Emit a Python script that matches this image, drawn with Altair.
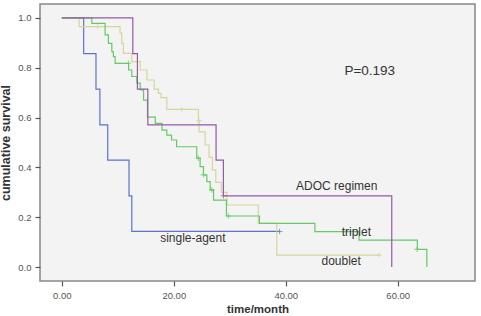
import altair as alt
import pandas as pd

# ---- data ----
series_names = ["single-agent", "doublet", "triplet", "ADOC regimen"]
series_colors = ["#5a74cc", "#d6d69c", "#62cc62", "#9659a8"]

single_t = [0, 3.9, 6.1, 6.8, 8.2, 12.0, 12.5, 38.9]
single_s = [1.0, 0.857, 0.714, 0.571, 0.429, 0.286, 0.143, 0.143]
single_ct = [38.9]
single_cs = [0.143]

doublet_t = [0, 3.1, 10.4, 10.7, 11.0, 12.5, 14.0, 15.2, 16.5, 17.25, 17.7, 18.75,
             24.4, 24.5, 25.6, 26.3, 26.9, 27.5, 28.5, 29.5, 35.1, 38.4, 56.7]
doublet_s = [1.0, 0.965, 0.939, 0.898, 0.858, 0.825, 0.791, 0.751, 0.714, 0.697, 0.68, 0.633,
             0.588, 0.543, 0.49, 0.44, 0.39, 0.34, 0.30, 0.249, 0.175, 0.048, 0.048]
doublet_ct = [6.4, 21.4, 24.5, 56.7]
doublet_cs = [0.965, 0.633, 0.588, 0.048]

triplet_t = [0, 5.36, 7.73, 8.32, 8.93, 9.21, 9.52, 11.93, 12.5, 13.4, 14.0, 14.6, 15.3,
             16.7, 17.9, 18.75, 19.6, 20.5, 24.1, 24.7, 25.3, 25.9, 26.5, 27.1, 29.4,
             35.3, 45.2, 53.1, 63.5, 65.2]
triplet_s = [1.0, 0.978, 0.932, 0.898, 0.865, 0.845, 0.818, 0.791, 0.765, 0.738, 0.711, 0.67, 0.602,
             0.577, 0.550, 0.530, 0.510, 0.483, 0.437, 0.403, 0.37, 0.343, 0.31, 0.269, 0.205,
             0.175, 0.142, 0.108, 0.071, 0.0]
triplet_ct = [11.9, 24.4, 25.3, 26.8, 29.75, 63.45]
triplet_cs = [0.818, 0.437, 0.37, 0.31, 0.205, 0.071]

adoc_t = [0, 12.68, 13.5, 15.36, 27.55, 28.86, 58.93]
adoc_s = [1.0, 0.857, 0.714, 0.571, 0.429, 0.286, 0.0]
adoc_ct = [28.86]
adoc_cs = [0.286]

label_text = ["ADOC regimen", "triplet", "doublet", "single-agent"]
label_t = [49.1, 52.6, 49.9, 23.4]
label_s = [0.325, 0.141, 0.024, 0.116]

p_text = ["P=0.193"]
p_t = [55.0]
p_s = [0.787]

x_ticks = [0, 20, 40, 60]
y_ticks = [0.0, 0.2, 0.4, 0.6, 0.8, 1.0]

# ---- tables ----
curves = [
    ("single-agent", single_t, single_s, single_ct, single_cs),
    ("doublet", doublet_t, doublet_s, doublet_ct, doublet_cs),
    ("triplet", triplet_t, triplet_s, triplet_ct, triplet_cs),
    ("ADOC regimen", adoc_t, adoc_s, adoc_ct, adoc_cs),
]
line_rows, cens_rows = [], []
for name, ts, ss, cts, css in curves:
    for i, (t, s) in enumerate(zip(ts, ss)):
        line_rows.append({"series": name, "t": t, "s": s, "i": i})
    for t, s in zip(cts, css):
        cens_rows.append({"series": name, "t": t, "s": s})
lines_df = pd.DataFrame(line_rows)
cens_df = pd.DataFrame(cens_rows)
labels_df = pd.DataFrame({"label": label_text, "t": label_t, "s": label_s})
p_df = pd.DataFrame({"label": p_text, "t": p_t, "s": p_s})

xscale = alt.Scale(domain=[-3.9, 73.8], nice=False, zero=False)
yscale = alt.Scale(domain=[-0.056, 1.056], nice=False, zero=False)
cscale = alt.Scale(domain=series_names, range=series_colors)

xaxis = alt.Axis(values=x_ticks, format=".2f", title="time/month", titlePadding=4,
                 labelPadding=4, titleFontSize=11.5)
yaxis = alt.Axis(values=y_ticks, format=".1f", title="cumulative survival", titlePadding=5,
                 labelPadding=4, titleFontSize=12.5)

base_lines = alt.Chart(lines_df).mark_line(interpolate="step-after", strokeWidth=1.2).encode(
    x=alt.X("t:Q", scale=xscale, axis=xaxis),
    y=alt.Y("s:Q", scale=yscale, axis=yaxis),
    color=alt.Color("series:N", scale=cscale, legend=None),
    detail="series:N",
    order="i:Q",
)

cens = alt.Chart(cens_df).mark_point(
    shape="M-1,0L1,0M0,-1L0,1", size=30, filled=False, strokeWidth=1.1
).encode(
    x=alt.X("t:Q", scale=xscale),
    y=alt.Y("s:Q", scale=yscale),
    color=alt.Color("series:N", scale=cscale, legend=None),
)

texts = alt.Chart(labels_df).mark_text(
    font="Liberation Sans", fontSize=12, color="#333333", align="center", baseline="middle"
).encode(
    x=alt.X("t:Q", scale=xscale),
    y=alt.Y("s:Q", scale=yscale),
    text="label:N",
)

ptext = alt.Chart(p_df).mark_text(
    font="Liberation Sans", fontSize=13.5, color="#333333", align="center", baseline="middle"
).encode(
    x=alt.X("t:Q", scale=xscale),
    y=alt.Y("s:Q", scale=yscale),
    text="label:N",
)

chart = alt.layer(base_lines, cens, texts, ptext).properties(
    width=435, height=277,
    autosize=alt.AutoSizeParams(type="none"),
    padding={"left": 40, "top": 4, "right": 6, "bottom": 35},
    background="white",
).configure_view(
    fill="#f3f3f3", stroke="#888888", strokeWidth=1.5
).configure_axis(
    domain=False, grid=False, tickColor="#555555", tickSize=5, tickWidth=1.2,
    labelColor="#555555", labelFont="Liberation Sans", labelFontSize=9.5,
    titleFont="Liberation Sans", titleFontWeight="bold", titleColor="#333333",
)

chart.save("out.html", embed_options={"renderer": "svg", "actions": False})
